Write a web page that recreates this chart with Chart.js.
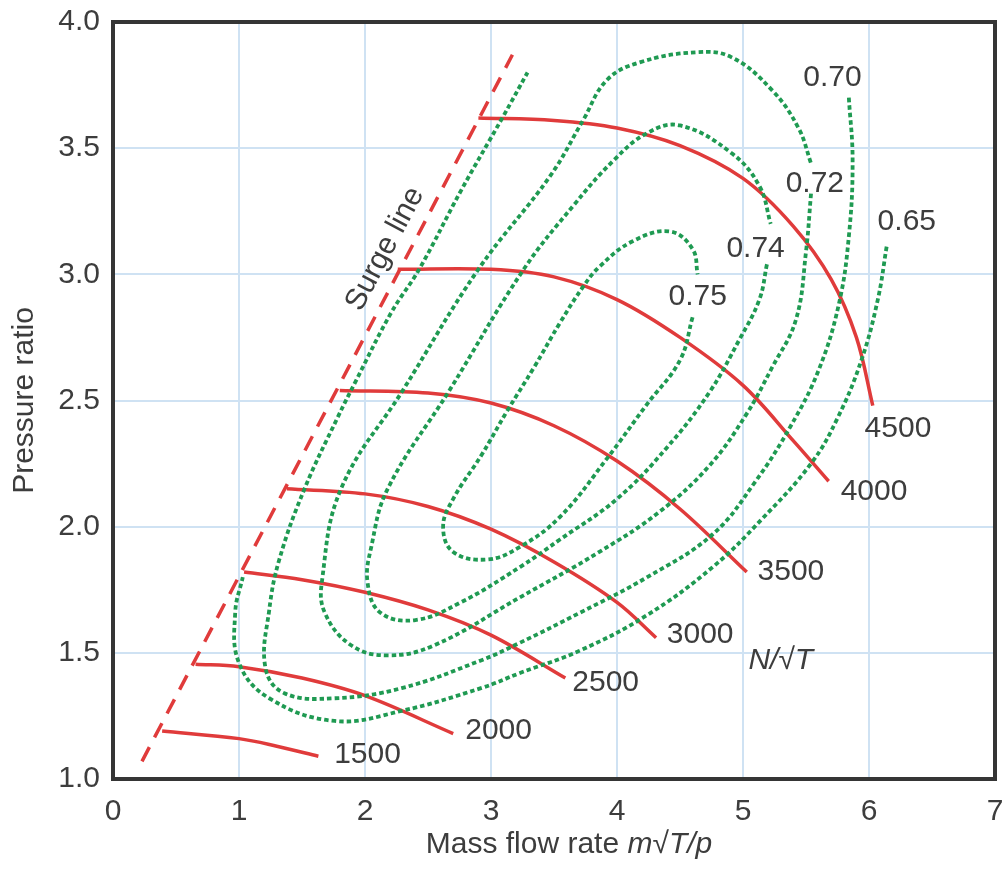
<!DOCTYPE html>
<html>
<head>
<meta charset="utf-8">
<script src="https://cdn.jsdelivr.net/npm/chart.js@4.4.1/dist/chart.umd.min.js"></script>
<style>
  html, body { margin: 0; padding: 0; background: #fff; }
  #wrap { width: 1007px; height: 876px; }
</style>
</head>
<body>
<div id="wrap"><canvas id="chart"></canvas></div>
<script>
// Speed lines N/sqrt(T): [mass flow, pressure ratio]
const n1500 = [[0.39, 1.19], [1.0, 1.16], [1.3, 1.13], [1.63, 1.09]];
const n2000 = [[0.655, 1.455], [1.0, 1.445], [1.5, 1.40], [2.0, 1.33], [2.70, 1.18]];
const n2500 = [[1.04, 1.82], [1.5, 1.79], [2.0, 1.74], [2.5, 1.67], [3.0, 1.57], [3.59, 1.40]];
const n3000 = [[1.38, 2.15], [2.0, 2.13], [2.5, 2.08], [3.0, 1.99], [3.5, 1.86], [4.0, 1.70], [4.31, 1.56]];
const n3500 = [[1.80, 2.54], [2.5, 2.53], [3.0, 2.49], [3.5, 2.40], [4.0, 2.26], [4.5, 2.07], [5.03, 1.82]];
const n4000 = [[2.26, 3.02], [3.0, 3.02], [3.5, 2.99], [4.0, 2.90], [4.5, 2.75], [5.0, 2.56], [5.4, 2.34], [5.68, 2.18]];
const n4500 = [[2.90, 3.62], [3.5, 3.61], [4.0, 3.58], [4.5, 3.51], [5.0, 3.38], [5.4, 3.19], [5.7, 2.98], [5.9, 2.75], [6.03, 2.48]];
const surgeLine = [[0.23, 1.07], [3.17, 3.87]];

// Efficiency contours
const eff065 = [[6.14, 3.11], [6.07, 2.90], [5.94, 2.66], [5.75, 2.43], [5.54, 2.25], [5.15, 2.03], [4.76, 1.84], [4.24, 1.65], [3.71, 1.51], [3.23, 1.42], [2.92, 1.36], [2.29, 1.27], [1.76, 1.23], [1.24, 1.32], [1.00, 1.46], [0.97, 1.66], [1.03, 1.80]];
const eff070 = [[5.84, 3.70], [5.87, 3.45], [5.84, 3.15], [5.76, 2.88], [5.60, 2.62], [5.38, 2.40], [5.10, 2.18], [4.76, 1.97], [4.24, 1.80], [3.71, 1.66], [3.23, 1.54], [2.92, 1.47], [2.29, 1.36], [1.76, 1.32], [1.36, 1.34], [1.21, 1.44], [1.24, 1.67], [1.32, 1.87], [1.52, 2.15], [1.78, 2.43], [1.93, 2.58], [2.21, 2.85], [2.43, 3.02], [2.76, 3.33], [3.09, 3.62], [3.29, 3.80]];
const eff072 = [[5.54, 3.32], [5.50, 3.09], [5.42, 2.82], [5.23, 2.63], [5.02, 2.44], [4.73, 2.24], [4.34, 2.06], [3.86, 1.90], [3.23, 1.72], [2.55, 1.53], [2.18, 1.49], [1.89, 1.53], [1.68, 1.66], [1.66, 1.79], [1.81, 2.15], [2.30, 2.54], [2.90, 3.02], [3.47, 3.39], [3.73, 3.61], [3.92, 3.77], [4.18, 3.84], [4.63, 3.88], [4.91, 3.86], [5.23, 3.73], [5.44, 3.58], [5.54, 3.44]];
const eff074 = [[5.19, 3.04], [5.13, 2.90], [4.97, 2.74], [4.73, 2.53], [4.39, 2.31], [4.00, 2.11], [3.55, 1.95], [3.23, 1.84], [2.76, 1.70], [2.40, 1.63], [2.12, 1.66], [2.02, 1.78], [2.05, 1.92], [2.18, 2.15], [2.67, 2.54], [3.26, 3.02], [3.65, 3.27], [3.97, 3.45], [4.24, 3.56], [4.50, 3.59], [4.91, 3.48], [5.13, 3.35], [5.22, 3.20]];
const eff075 = [[4.60, 2.83], [4.50, 2.66], [4.23, 2.48], [3.92, 2.27], [3.55, 2.04], [3.23, 1.92], [2.97, 1.87], [2.70, 1.90], [2.62, 2.00], [2.70, 2.11], [2.92, 2.28], [3.13, 2.46], [3.34, 2.63], [3.55, 2.81], [3.73, 2.95], [3.86, 3.03], [4.12, 3.13], [4.42, 3.17], [4.60, 3.10], [4.64, 3.00]];

// Label text and anchor (data units)
const speedLabels = ['1500', '2000', '2500', '3000', '3500', '4000', '4500'];
const speedLabelX = [2.02, 3.06, 3.91, 4.66, 5.38, 6.04, 6.23];
const speedLabelY = [1.095, 1.19, 1.38, 1.57, 1.82, 2.14, 2.39];
const effLabels = ['0.65', '0.70', '0.72', '0.74', '0.75'];
const effLabelX = [6.30, 5.71, 5.57, 5.10, 4.64];
const effLabelY = [3.21, 3.78, 3.36, 3.10, 2.91];

const RED = '#e03b3b';
const GREEN = '#1f9a52';
const TEXT = '#3d3d3d';
const FONT = '"Liberation Sans", Arial, sans-serif';

const toPts = arr => arr.map(([x, y]) => ({ x, y }));

const speedSets = [n1500, n2000, n2500, n3000, n3500, n4000, n4500].map((d, i) => ({
    label: speedLabels[i],
    data: toPts(d),
    borderColor: RED,
    borderWidth: 3.5,
    tension: 0.35
}));

const effSets = [eff065, eff070, eff072, eff074, eff075].map((d, i) => ({
    label: effLabels[i],
    data: toPts(d),
    borderColor: GREEN,
    borderWidth: 3.8,
    borderDash: [4.5, 3],
    tension: 0.4
}));

const surgeSet = {
    label: 'Surge line',
    data: toPts(surgeLine),
    borderColor: RED,
    borderWidth: 3.5,
    borderDash: [16, 11],
    tension: 0
};

// Text on the plot, frame and x title
const textPlugin = {
    id: 'textPlugin',
    afterDatasetsDraw(chart) {
        const { ctx, chartArea: a, scales: { x, y } } = chart;
        ctx.save();
        ctx.fillStyle = TEXT;
        ctx.textAlign = 'center';
        ctx.textBaseline = 'middle';
        ctx.font = `30px ${FONT}`;
        speedLabels.forEach((t, i) => {
            ctx.fillText(t, x.getPixelForValue(speedLabelX[i]), y.getPixelForValue(speedLabelY[i]));
        });
        effLabels.forEach((t, i) => {
            ctx.fillText(t, x.getPixelForValue(effLabelX[i]), y.getPixelForValue(effLabelY[i]));
        });

        ctx.font = `italic 30px ${FONT}`;
        ctx.fillText('N/\u221AT', x.getPixelForValue(5.30), y.getPixelForValue(1.47));

        // Surge line label, rotated along the line
        ctx.save();
        ctx.translate(x.getPixelForValue(2.16), y.getPixelForValue(3.10));
        ctx.rotate(-62 * Math.PI / 180);
        ctx.font = `30px ${FONT}`;
        ctx.fillText('Surge line', 0, 0);
        ctx.restore();

        // Frame
        ctx.strokeStyle = '#353535';
        ctx.lineWidth = 4;
        ctx.strokeRect(a.left, a.top, a.right - a.left, a.bottom - a.top);

        // X title with italic part
        const t1 = 'Mass flow rate ';
        const t2 = 'm\u221AT/p';
        ctx.font = `30px ${FONT}`;
        const w1 = ctx.measureText(t1).width;
        ctx.font = `italic 30px ${FONT}`;
        const w2 = ctx.measureText(t2).width;
        const sx = (a.left + a.right) / 2 + 15 - (w1 + w2) / 2;
        ctx.textAlign = 'left';
        ctx.textBaseline = 'alphabetic';
        ctx.font = `30px ${FONT}`;
        ctx.fillText(t1, sx, 853);
        ctx.font = `italic 30px ${FONT}`;
        ctx.fillText(t2, sx + w1, 853);
        ctx.restore();
    }
};

const config = {
    type: 'scatter',
    data: { datasets: [...effSets, ...speedSets, surgeSet] },
    options: {
        responsive: true,
        maintainAspectRatio: false,
        animation: false,
        showLine: true,
        elements: { point: { radius: 0, hoverRadius: 0 } },
        layout: { padding: { left: 0, right: 12, top: 22, bottom: 0 } },
        plugins: { legend: { display: false }, tooltip: { enabled: false } },
        scales: {
            x: {
                type: 'linear',
                min: 0,
                max: 7,
                afterFit: s => { s.height = 97; s.paddingLeft = 0; s.paddingRight = 0; },
                ticks: { stepSize: 1, color: TEXT, padding: 15, font: { family: FONT, size: 30 } },
                grid: { color: '#cfe2f3', lineWidth: 2, drawTicks: false },
                border: { display: false }
            },
            y: {
                type: 'linear',
                min: 1,
                max: 4,
                afterFit: s => { s.width = 113; s.paddingTop = 0; s.paddingBottom = 0; },
                ticks: {
                    stepSize: 0.5,
                    color: TEXT,
                    padding: 13,
                    font: { family: FONT, size: 30 },
                    callback: v => v.toFixed(1)
                },
                grid: { color: '#cfe2f3', lineWidth: 2, drawTicks: false },
                border: { display: false },
                title: {
                    display: true,
                    text: 'Pressure ratio',
                    color: TEXT,
                    padding: { top: 7, bottom: 0 },
                    font: { family: FONT, size: 30 }
                }
            }
        }
    },
    plugins: [textPlugin]
};

const chart = new Chart(document.getElementById('chart'), config);
</script>
</body>
</html>
